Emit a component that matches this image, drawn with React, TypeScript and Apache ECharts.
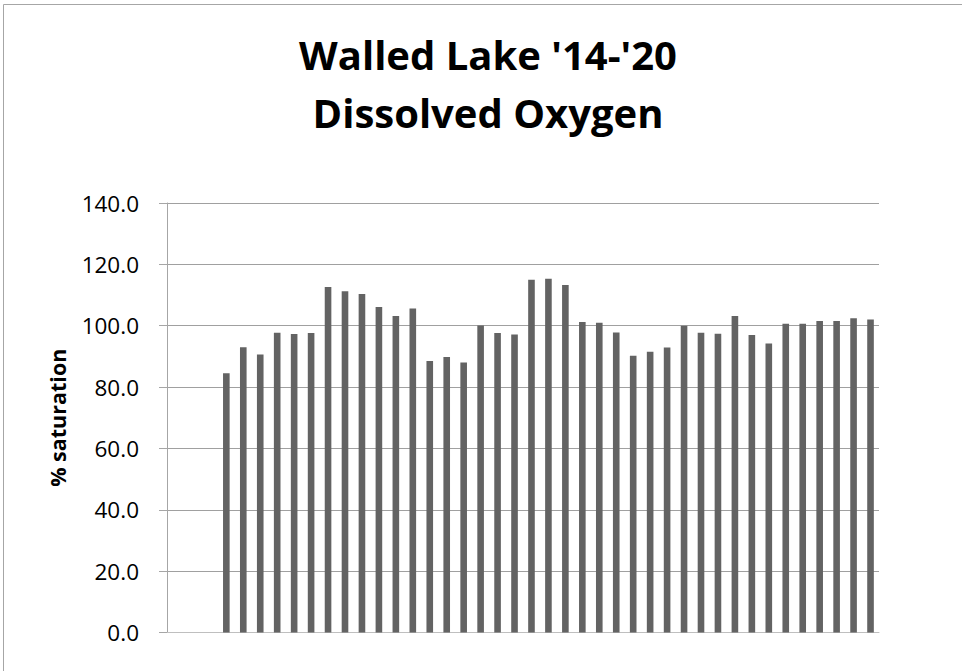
import React, { useEffect, useRef } from "react";
import * as echarts from "echarts";

const titleText = "Walled Lake '14-'20\nDissolved Oxygen";
const yAxisName = "% saturation";
const yTicks = [0, 20, 40, 60, 80, 100, 120, 140];

// 42 sampling slots; the first three are empty
const categories = [
  "1", "2", "3", "4", "5", "6", "7", "8", "9", "10",
  "11", "12", "13", "14", "15", "16", "17", "18", "19", "20",
  "21", "22", "23", "24", "25", "26", "27", "28", "29", "30",
  "31", "32", "33", "34", "35", "36", "37", "38", "39", "40",
  "41", "42",
];

const saturation: (number | null)[] = [
  null, null, null,
  84.5, 93.0, 90.6, 97.7, 97.3, 97.6, 112.6, 111.2, 110.3, 106.1,
  103.2, 105.6, 88.5, 89.8, 88.0, 100.1, 97.6, 97.1, 115.0, 115.3,
  113.3, 101.2, 101.0, 97.8, 90.2, 91.5, 92.9, 100.0, 97.7, 97.4,
  103.2, 97.0, 94.2, 100.6, 100.6, 101.5, 101.5, 102.4, 102.0,
];

export default function App() {
  const ref = useRef<HTMLDivElement>(null);
  useEffect(() => {
    if (!ref.current) return;
    const chart = echarts.init(ref.current, null, { renderer: "svg" });
    chart.setOption({
      animation: false,
      backgroundColor: "#ffffff",
      graphic: [
        {
          type: "rect",
          shape: { x: 3.5, y: 4.5, width: 2000, height: 2000 },
          style: { fill: "none", stroke: "#a6a6a6", lineWidth: 1 },
          silent: true,
        },
        {
          type: "text",
          x: 488,
          y: 25.5,
          silent: true,
          style: {
            text: titleText,
            align: "center",
            verticalAlign: "top",
            fontFamily: "Open Sans",
            fontWeight: "bold",
            fontSize: 40,
            lineHeight: 58,
            fill: "#000000",
          },
        },
      ],
      grid: { left: 167, right: 83, top: 203, bottom: 38.5, containLabel: false },
      xAxis: {
        type: "category",
        data: categories,
        axisLine: { show: true, lineStyle: { color: "#bfbfbf", width: 1 } },
        axisTick: { show: false },
        axisLabel: { show: false },
        splitLine: { show: false },
      },
      yAxis: {
        type: "value",
        min: yTicks[0],
        max: yTicks[yTicks.length - 1],
        interval: 20,
        name: yAxisName,
        nameLocation: "middle",
        nameGap: 99,
        nameTextStyle: {
          fontFamily: "Open Sans",
          fontWeight: "bold",
          fontSize: 21.5,
          color: "#000000",
        },
        axisLine: { show: true, lineStyle: { color: "#a6a6a6", width: 1 } },
        axisTick: { show: true, inside: false, length: 8, lineStyle: { color: "#a6a6a6" } },
        axisLabel: {
          margin: 28,
          fontFamily: "Open Sans",
          fontSize: 22.5,
          color: "#000000",
          formatter: (v: number) => v.toFixed(1),
        },
        splitLine: { show: true, lineStyle: { color: "#a0a0a0", width: 1 } },
      },
      series: [
        {
          type: "bar",
          data: saturation,
          barWidth: "39%",
          itemStyle: { color: "#636363" },
        },
      ],
    });
    return () => chart.dispose();
  }, []);
  return (
    <div
      ref={ref}
      style={{ position: "fixed", left: 0, top: 0, width: 962, height: 671 }}
    />
  );
}
